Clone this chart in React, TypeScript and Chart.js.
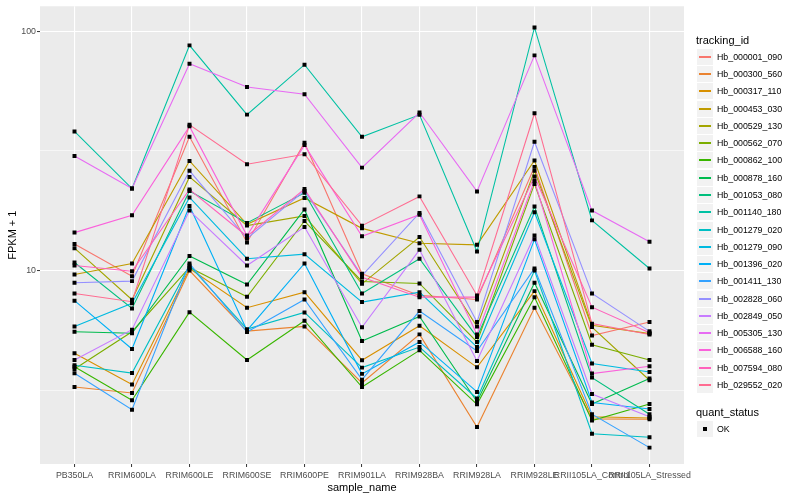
import React, { useEffect, useRef } from "react";
import { Chart, registerables } from "chart.js";

Chart.register(...registerables);

const categories = [
  "PB350LA", "RRIM600LA", "RRIM600LE", "RRIM600SE", "RRIM600PE", "RRIM901LA",
  "RRIM928BA", "RRIM928LA", "RRIM928LE", "RRII105LA_Control", "RRII105LA_Stressed",
];

const seriesNames = [
  "Hb_000001_090", "Hb_000300_560", "Hb_000317_110", "Hb_000453_030", "Hb_000529_130",
  "Hb_000562_070", "Hb_000862_100", "Hb_000878_160", "Hb_001053_080", "Hb_001140_180",
  "Hb_001279_020", "Hb_001279_090", "Hb_001396_020", "Hb_001411_130", "Hb_002828_060",
  "Hb_002849_050", "Hb_005305_130", "Hb_006588_160", "Hb_007594_080", "Hb_029552_020",
];

const seriesColors = [
  "#F8766D", "#EA8331", "#D89000", "#C09B00", "#A3A500", "#7CAE00", "#39B600", "#00BB4E",
  "#00BF7D", "#00C1A3", "#00BFC4", "#00BAE0", "#00B0F6", "#35A2FF", "#9590FF", "#C77CFF",
  "#E76BF3", "#FA62DB", "#FF62BC", "#FF6C91",
];

const hb000001 = [12.9, 9.47, 36.2, 13.1, 34.2, 9.69, 7.87, 7.57, 27.1, 5.35, 6.09];
const hb000300 = [3.26, 3.08, 10.0, 5.58, 5.84, 3.39, 5.41, 2.22, 6.99, 2.40, 2.39];
const hb000317 = [4.51, 3.34, 10.2, 6.99, 8.12, 4.22, 5.88, 3.94, 8.20, 2.45, 2.42];
const hb000453 = [9.62, 10.7, 28.7, 15.6, 20.1, 15.0, 13.0, 12.8, 28.8, 5.90, 5.45];
const hb000529 = [12.4, 7.55, 24.6, 15.4, 16.9, 8.80, 13.8, 5.84, 26.1, 5.80, 3.48];
const hb000562 = [3.88, 5.55, 10.3, 7.77, 16.1, 9.0, 8.83, 5.03, 23.0, 4.90, 4.23];
const hb000862 = [3.96, 2.87, 6.70, 4.23, 6.17, 3.26, 4.64, 2.76, 7.74, 2.36, 2.77];
const hb000878 = [5.55, 5.47, 11.5, 8.74, 18.0, 5.08, 6.43, 2.83, 8.89, 2.77, 3.54];
const hb001053 = [10.8, 6.94, 21.5, 15.8, 21.1, 8.02, 11.2, 5.27, 18.5, 3.57, 2.51];
const hb001140 = [38.1, 22.0, 87.2, 44.8, 72.4, 36.2, 44.7, 12.0, 103.6, 16.2, 10.2];
const hb001279a = [4.02, 3.73, 10.5, 5.69, 6.68, 3.93, 4.79, 2.92, 10.0, 2.08, 2.01];
const hb001279b = [5.84, 7.29, 20.2, 11.2, 11.7, 7.38, 8.12, 4.79, 17.5, 4.09, 3.77];
const hb001396 = [7.48, 4.70, 18.6, 5.62, 10.7, 3.70, 5.03, 3.11, 13.5, 2.81, 2.64];
const hb001411 = [3.72, 2.62, 10.7, 5.53, 7.57, 3.50, 6.77, 4.61, 10.2, 2.51, 1.82];
const hb002828 = [8.89, 9.03, 26.1, 13.6, 21.5, 9.53, 17.4, 6.09, 34.5, 8.02, 5.57];
const hb002849 = [4.23, 5.66, 17.8, 10.5, 15.2, 5.79, 12.2, 4.19, 14.0, 3.05, 2.45];
const hb005305 = [30.1, 22.0, 73.1, 58.4, 54.5, 26.9, 45.7, 21.4, 79.2, 17.8, 13.2];
const hb006588 = [14.4, 17.0, 40.0, 14.0, 33.4, 13.9, 17.1, 5.41, 23.7, 3.71, 3.98];
const hb007594 = [10.5, 9.93, 21.8, 13.9, 21.9, 9.38, 7.74, 7.74, 24.7, 7.03, 5.50];
const hb029552 = [8.02, 7.41, 40.6, 27.8, 30.6, 15.4, 20.4, 7.87, 45.4, 6.00, 5.40];

const seriesValues = [
  hb000001, hb000300, hb000317, hb000453, hb000529, hb000562, hb000862, hb000878,
  hb001053, hb001140, hb001279a, hb001279b, hb001396, hb001411, hb002828, hb002849,
  hb005305, hb006588, hb007594, hb029552,
];

const yTickValues = [3.1623, 10, 31.623, 100];
const yTickLabels = ["", "10", "", "100"];
const yMajor = [10, 100];

const FONT = '"Liberation Sans", Arial, Helvetica, sans-serif';

const panelBg = {
  id: "panelBg",
  beforeDraw(chart: any) {
    const { ctx, chartArea } = chart;
    if (!chartArea) return;
    ctx.save();
    ctx.fillStyle = "#EBEBEB";
    ctx.fillRect(chartArea.left, chartArea.top, chartArea.right - chartArea.left, chartArea.bottom - chartArea.top);
    ctx.restore();
  },
};

export default function App() {
  const canvasRef = useRef<HTMLCanvasElement | null>(null);

  useEffect(() => {
    const canvas = canvasRef.current;
    if (!canvas) return;

    const lineSets = seriesValues.map((vals, i) => ({
      label: seriesNames[i],
      data: vals.map((v, j) => ({ x: j, y: v })),
      borderColor: seriesColors[i],
      backgroundColor: seriesColors[i],
      borderWidth: 1.1,
      pointRadius: 0,
      tension: 0,
      fill: false,
      order: 100 - i,
    }));

    const pointSet = {
      label: "OK",
      data: seriesValues.flatMap((vals) => vals.map((v, j) => ({ x: j, y: v }))),
      showLine: false,
      pointStyle: "rect",
      pointRadius: 2.8,
      pointBackgroundColor: "#000000",
      pointBorderWidth: 0,
      borderColor: "#000000",
      order: 0,
    };

    const chart = new Chart(canvas, {
      type: "line",
      data: { datasets: [...lineSets, pointSet] as any },
      options: {
        animation: false,
        responsive: false,
        maintainAspectRatio: false,
        devicePixelRatio: 1,
        layout: { padding: { left: 0, right: 116, top: 5, bottom: 0 } },
        plugins: { legend: { display: false }, tooltip: { enabled: false } },
        scales: {
          x: {
            type: "linear",
            min: -0.6,
            max: categories.length - 1 + 0.6,
            afterBuildTicks: (scale: any) => {
              scale.ticks = categories.map((_, i) => ({ value: i }));
            },
            afterFit: (scale: any) => {
              scale.height = 36;
            },
            border: { display: false },
            grid: {
              color: "#FFFFFF",
              lineWidth: 1.1,
              tickColor: "#333333",
              tickLength: 3,
              tickWidth: 1,
            },
            ticks: {
              autoSkip: false,
              maxRotation: 0,
              minRotation: 0,
              padding: 3,
              color: "#4D4D4D",
              font: { family: FONT, size: 8.8 },
              callback: (v: any) => categories[v as number] ?? "",
            },
            title: {
              display: true,
              text: "sample_name",
              color: "#000000",
              font: { family: FONT, size: 11 },
              padding: { top: 0, bottom: 5.4 },
            },
          },
          y: {
            type: "logarithmic",
            min: 1.555,
            max: 127,
            afterBuildTicks: (scale: any) => {
              scale.ticks = yTickValues.map((v) => ({ value: v }));
            },
            afterFit: (scale: any) => {
              scale.width = 40;
            },
            border: { display: false },
            grid: {
              color: "#FFFFFF",
              lineWidth: (ctx: any) => (ctx.tick && yMajor.includes(ctx.tick.value) ? 1.1 : 0.55),
              tickColor: (ctx: any) => (ctx.tick && yMajor.includes(ctx.tick.value) ? "#333333" : "rgba(0,0,0,0)"),
              tickLength: 3,
              tickWidth: 1,
            },
            ticks: {
              autoSkip: false,
              padding: 1,
              color: "#4D4D4D",
              font: { family: FONT, size: 8.8 },
              callback: (v: any) => {
                const k = yTickValues.indexOf(v as number);
                return k >= 0 ? yTickLabels[k] : "";
              },
            },
            title: {
              display: true,
              text: "FPKM + 1",
              color: "#000000",
              font: { family: FONT, size: 11 },
              padding: { top: 6, bottom: 0 },
            },
          },
        },
      },
      plugins: [panelBg],
    } as any);

    return () => chart.destroy();
  }, []);

  const legendTop = 48.7;
  const step = 17.28;

  return (
    <div style={{ position: "fixed", left: 0, top: 0, width: 800, height: 500, background: "#FFFFFF", fontFamily: FONT }}>
      <canvas ref={canvasRef} width={800} height={500} style={{ position: "absolute", left: 0, top: 0, width: 800, height: 500 }} />
      <div style={{ position: "absolute", left: 696, top: 34, fontSize: 11, lineHeight: "13px", color: "#000" }}>tracking_id</div>
      {seriesNames.map((name, i) => {
        const top = Math.round(legendTop + i * step);
        return (
          <React.Fragment key={name}>
            <div
              style={{
                position: "absolute",
                left: 697,
                top,
                width: 16,
                height: 16,
                background: "#F2F2F2",
              }}
            >
              <div style={{ position: "absolute", left: 2, width: 12, top: 7, height: 2, background: seriesColors[i] }} />
            </div>
            <div
              style={{
                position: "absolute",
                left: 717,
                top,
                height: 16,
                lineHeight: "16px",
                fontSize: 8.8,
                color: "#000",
                whiteSpace: "nowrap",
              }}
            >
              {name}
            </div>
          </React.Fragment>
        );
      })}
      <div style={{ position: "absolute", left: 696, top: 405.8, fontSize: 11, lineHeight: "13px", color: "#000" }}>quant_status</div>
      <div style={{ position: "absolute", left: 697, top: 421, width: 16, height: 16, background: "#F2F2F2" }}>
        <div style={{ position: "absolute", left: 6, top: 6, width: 4, height: 4, background: "#000" }} />
      </div>
      <div style={{ position: "absolute", left: 717, top: 421, height: 16, lineHeight: "16px", fontSize: 8.8, color: "#000" }}>OK</div>
    </div>
  );
}
